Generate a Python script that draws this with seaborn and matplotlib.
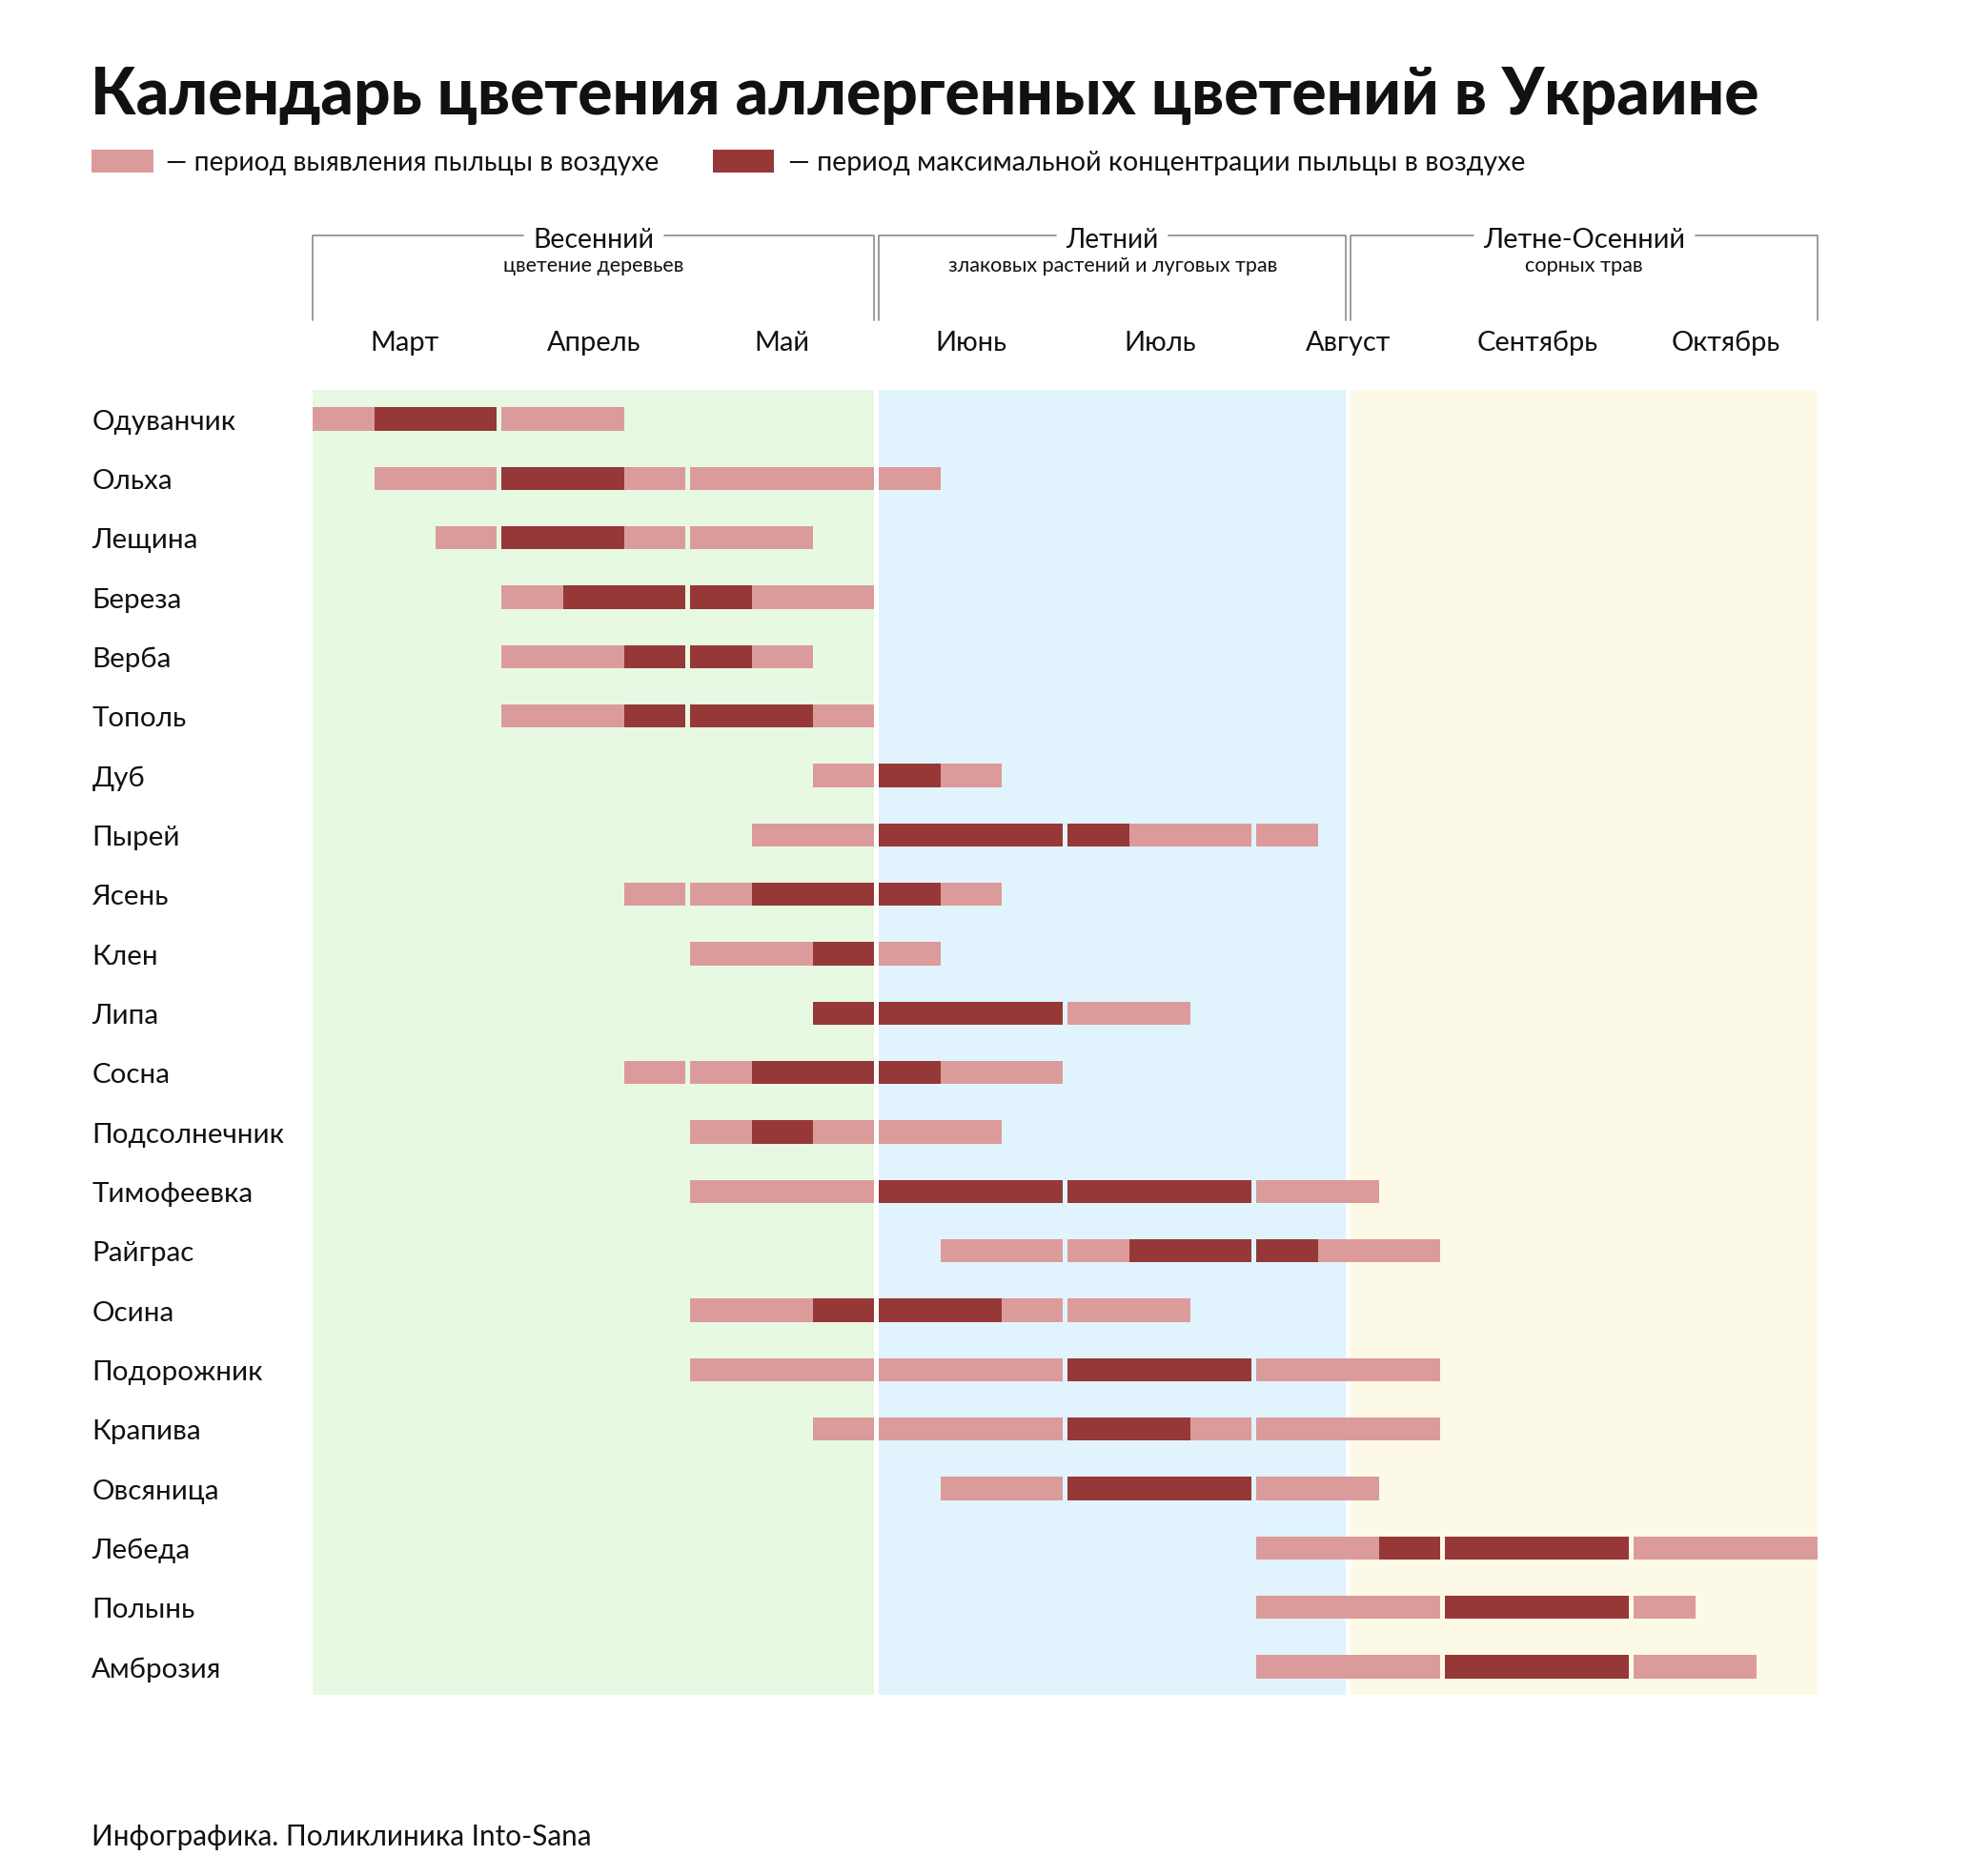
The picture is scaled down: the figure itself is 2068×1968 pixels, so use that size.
import numpy as np
import pandas as pd
import matplotlib
matplotlib.use("Agg")
import matplotlib.pyplot as plt
from matplotlib.lines import Line2D
from matplotlib.patches import Rectangle
import seaborn as sns

# ---------------- data ----------------
title = "Календарь цветения аллергенных цветений в Украине"
legend_labels = ["— период выявления пыльцы в воздухе",
                 "— период максимальной концентрации пыльцы в воздухе"]
months = ["Март", "Апрель", "Май", "Июнь", "Июль", "Август", "Сентябрь", "Октябрь"]
seasons = ["Весенний", "Летний", "Летне-Осенний"]
season_notes = ["цветение деревьев", "злаковых растений и луговых трав", "сорных трав"]
season_bounds = [(0, 3), (3, 5.5), (5.5, 8)]   # in months from 1 March
footer = "Инфографика. Поликлиника Into-Sana"

plants = ["Одуванчик", "Ольха", "Лещина", "Береза", "Верба", "Тополь", "Дуб",
          "Пырей", "Ясень", "Клен", "Липа", "Сосна", "Подсолнечник",
          "Тимофеевка", "Райграс", "Осина", "Подорожник", "Крапива",
          "Овсяница", "Лебеда", "Полынь", "Амброзия"]

# one character per ten-day period, March (1-3) ... October (1-3)
# '.' = none, 'l' = pollen detected, 'd' = maximum concentration
calendar = [
    "lddll",
    ".llddlllll",
    "..lddlll",
    "...ldddll",
    "...llddl",
    "...lldddl",
    "........ldl",
    ".......llddddlll",
    ".....lldddl",
    "......lldl",
    "........ddddll",
    ".....lldddll",
    "......ldlll",
    "......lllddddddll",
    "..........llldddll",
    "......lldddlll",
    "......lllllldddlll",
    "........llllddllll",
    "..........lldddll",
    "...............lldddd" + "lll",
    "...............llldddl",
    "...............llldddll",
]
calendar = [c.ljust(24, ".") for c in calendar]

# ---------------- style ----------------
sns.set_theme(style="white")
plt.rcParams["font.family"] = ["Lato", "DejaVu Sans"]

LIGHT = "#DC9B9B"
DARK = "#973838"
BG = ["#E7F9E3", "#E1F3FC", "#FCF9E6"]
TXT = "#111111"
LINE = "#8a8a8a"
palette = sns.color_palette([LIGHT, DARK])

W, H = 2068, 1968
S = W / 1568.0          # layout measured on a 1568-px-wide view
fig = plt.figure(figsize=(W / 100, H / 100), dpi=100)
fig.patch.set_facecolor("white")

def F(x, y):
    """layout coords (1568-wide view) -> figure fraction"""
    return x * S / W, 1 - y * S / H

GAP = 4 / 150.0   # month gap in month units
X0, X1 = 249, 1446
Y0, Y1 = 310, 1348
ax = fig.add_axes([X0 * S / W, 1 - Y1 * S / H, (X1 - X0) * S / W, (Y1 - Y0) * S / H])
XMAX = 8 - GAP
YTOP, YBOT = -0.49, 21.47
ax.set_xlim(0, XMAX)
ax.set_ylim(YBOT, YTOP)
ax.axis("off")

def xl(x):
    return X0 + x * (X1 - X0) / XMAX

def yl(r):
    return Y0 + (r - YTOP) * (Y1 - Y0) / (YBOT - YTOP)

# season backgrounds
for (a, b), c in zip(season_bounds, BG):
    ax.axvspan(a, b - GAP, color=c, lw=0, zorder=0)

# decode segments
rows = []
for i, code in enumerate(calendar):
    for m in range(8):
        seg = code[3 * m:3 * m + 3]
        k = 0
        while k < 3:
            c = seg[k]
            j = k
            while j < 3 and seg[j] == c:
                j += 1
            if c != ".":
                rows.append(dict(plant=plants[i], row=i, level=c,
                                 left=m + k * (1 - GAP) / 3,
                                 width=(j - k) * (1 - GAP) / 3))
            k = j
seg_df = pd.DataFrame(rows)
for lvl, col in zip(["l", "d"], palette):
    sub = seg_df[seg_df.level == lvl]
    ax.barh(sub["row"], sub["width"], left=sub["left"], height=0.39,
            color=col, lw=0, zorder=2)

renderer = fig.canvas.get_renderer()

def fit(t, target_w):
    w = t.get_window_extent(renderer).width
    t.set_fontsize(t.get_fontsize() * target_w * S / w)
    return t

# title
t = fig.text(*F(72, 91), title, fontsize=44, fontweight="black", color=TXT,
             ha="left", va="baseline")
fit(t, 1328)

# legend
for (rx, tx, tw), lab, col in zip([(73, 132, 393), (567, 627, 586)], legend_labels, [LIGHT, DARK]):
    fig.add_artist(Rectangle(F(rx, 137), 49 * S / W, 18 * S / H, transform=fig.transFigure,
                             color=col, lw=0))
    t = fig.text(*F(tx, 135.5), lab, fontsize=20, color=TXT, ha="left", va="baseline")
    fit(t, tw)

# season brackets
season_w = [97, 74, 161]
note_w = [144, 264, 95]
for (a, b), name, note, sw, nw in zip(season_bounds, seasons, season_notes, season_w, note_w):
    L, R = xl(a), xl(b - GAP)
    cx = (L + R) / 2
    t = fig.text(*F(cx, 197), name, fontsize=20, color=TXT, ha="center", va="baseline")
    fit(t, sw)
    bb = t.get_window_extent(renderer)
    tl, tr = bb.x0 / S, bb.x1 / S
    ly = 187
    fig.add_artist(Line2D([F(L, 0)[0], F(L, 0)[0], F(tl - 8, 0)[0]],
                          [F(0, 255)[1], F(0, ly)[1], F(0, ly)[1]],
                          transform=fig.transFigure, color=LINE, lw=1.2))
    fig.add_artist(Line2D([F(tr + 8, 0)[0], F(R, 0)[0], F(R, 0)[0]],
                          [F(0, ly)[1], F(0, ly)[1], F(0, 255)[1]],
                          transform=fig.transFigure, color=LINE, lw=1.2))
    t2 = fig.text(*F(cx, 216), note, fontsize=14, color=TXT, ha="center", va="baseline")
    fit(t2, nw)

# month labels
ref = fig.text(0, 0, "Сентябрь", fontsize=22)
fit(ref, 96)
msize = ref.get_fontsize()
ref.remove()
for m, name in enumerate(months):
    cx = xl(m + (1 - GAP) / 2)
    fig.text(*F(cx, 279), name, fontsize=msize, color=TXT, ha="center", va="baseline")

# plant labels
ref = fig.text(0, 0, "Одуванчик", fontsize=20)
fit(ref, 114)
psize = ref.get_fontsize()
ref.remove()
for i, name in enumerate(plants):
    fig.text(*F(73, yl(i) + 8.5), name, fontsize=psize, color=TXT,
             ha="left", va="baseline")

# footer
t = fig.text(*F(73, 1468), footer, fontsize=20, color=TXT, ha="left", va="baseline")
fit(t, 397)

fig.savefig("out.png", dpi=100, facecolor="white")
